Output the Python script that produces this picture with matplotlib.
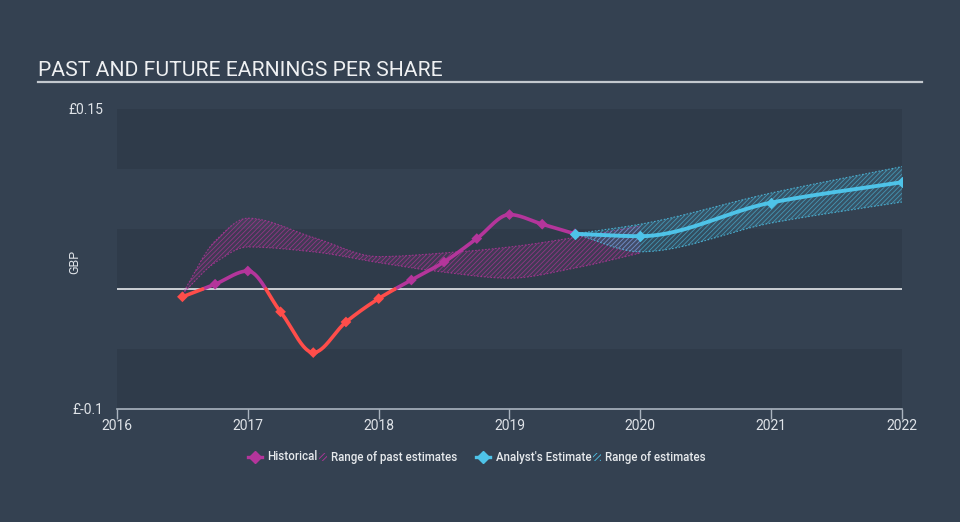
"""
Past and future EPS chart: historical EPS (coloured by sign), analyst
estimate line, and hatched ranges of past / future estimates.
Saves out.png (960x522).
"""

import numpy as np
import matplotlib
matplotlib.use("Agg")
import matplotlib.pyplot as plt
from matplotlib.lines import Line2D
from matplotlib.patches import Polygon

# ---- data ----
hist_x = [2016.5, 2016.75, 2017.0, 2017.25, 2017.5, 2017.75, 2018.0,
          2018.25, 2018.5, 2018.75, 2019.0, 2019.25, 2019.5]
hist_y = [-0.0065, 0.004, 0.015, -0.019, -0.053, -0.0275, -0.008,
          0.0075, 0.0225, 0.042, 0.062, 0.054, 0.046]

past_x = [2016.5, 2016.75, 2017.0, 2017.5, 2018.0, 2018.5, 2019.0, 2019.5, 2020.0]
past_hi = [-0.004, 0.040, 0.059, 0.043, 0.027, 0.030, 0.035, 0.043, 0.0525]
past_lo = [-0.004, 0.022, 0.035, 0.031, 0.022, 0.014, 0.009, 0.0175, 0.030]

est_x = [2019.5, 2020.0, 2021.0, 2022.0]
est_y = [0.046, 0.044, 0.072, 0.089]
est_hi = [0.046, 0.054, 0.080, 0.102]
est_lo = [0.046, 0.031, 0.055, 0.0725]

years = [2016, 2017, 2018, 2019, 2020, 2021, 2022]
ytick_vals = [-0.1, 0.15]
ytick_labels = ["£-0.1", "£0.15"]

BG = "#344151"
BAND = "#2f3b4a"
MAGENTA = "#b4359b"
RED = "#ff4d4a"
CYAN = "#4ec3e8"
TXT = "#dfe3e8"


def monotone(x, y, n=400):
    """Monotone cubic (Fritsch-Carlson) curve through the points, for drawing."""
    x = np.asarray(x, float)
    y = np.asarray(y, float)
    h = np.diff(x)
    d = np.diff(y) / h
    m = np.zeros_like(y)
    m[0], m[-1] = d[0], d[-1]
    for i in range(1, len(y) - 1):
        if d[i - 1] * d[i] <= 0:
            m[i] = 0.0
        else:
            w1 = 2 * h[i] + h[i - 1]
            w2 = h[i] + 2 * h[i - 1]
            m[i] = (w1 + w2) / (w1 / d[i - 1] + w2 / d[i])
    xs = np.linspace(x[0], x[-1], n)
    idx = np.clip(np.searchsorted(x, xs) - 1, 0, len(x) - 2)
    t = (xs - x[idx]) / h[idx]
    h00 = 2 * t**3 - 3 * t**2 + 1
    h10 = t**3 - 2 * t**2 + t
    h01 = -2 * t**3 + 3 * t**2
    h11 = t**3 - t**2
    ys = (h00 * y[idx] + h10 * h[idx] * m[idx]
          + h01 * y[idx + 1] + h11 * h[idx] * m[idx + 1])
    return xs, ys


plt.rcParams["font.family"] = ["Roboto", "DejaVu Sans"]
plt.rcParams["hatch.linewidth"] = 0.6

fig = plt.figure(figsize=(9.6, 5.22), dpi=100, facecolor=BG)
ax = fig.add_axes([117 / 960, 1 - 409 / 522, 785 / 960, 300 / 522])
ax.set_facecolor("none")
ax.set_xlim(2016, 2022)
ax.set_ylim(-0.1, 0.15)

# alternating horizontal bands
for lo in (-0.1, 0.0, 0.1):
    ax.axhspan(lo, lo + 0.05, color=BAND, lw=0, zorder=0)
ax.axhline(0, color="#e6e9ec", lw=1.2, zorder=1)

# range of past estimates
bx, bhi = monotone(past_x, past_hi)
_, blo = monotone(past_x, past_lo)
ax.fill_between(bx, blo, bhi, facecolor=MAGENTA + "22", edgecolor=MAGENTA + "b0",
                hatch="///////", lw=0, zorder=2)
for yy in (bhi, blo):
    ax.plot(bx, yy, color=MAGENTA, lw=0.8, ls=(0, (1.5, 1.5)), alpha=0.8, zorder=2)

# range of future estimates
fx, fhi = monotone(est_x, est_hi)
_, flo = monotone(est_x, est_lo)
ax.fill_between(fx, flo, fhi, facecolor=CYAN + "22", edgecolor=CYAN + "99",
                hatch="///////", lw=0, zorder=2)
for yy in (fhi, flo):
    ax.plot(fx, yy, color=CYAN, lw=0.8, ls=(0, (1.5, 1.5)), alpha=0.8, zorder=2)

# historical line, red below zero, magenta above
hx, hy = monotone(hist_x, hist_y, 1200)
ax.plot(hx, np.where(hy >= 0, hy, np.nan), color=MAGENTA, lw=2.6,
        solid_capstyle="round", zorder=3)
ax.plot(hx, np.where(hy < 0, hy, np.nan), color=RED, lw=2.6,
        solid_capstyle="round", zorder=3)
hcol = [MAGENTA if v >= 0 else RED for v in hist_y]
ax.scatter(hist_x, hist_y, marker="D", s=30, c=hcol, lw=0, zorder=4)

# analyst estimate
ex, ey = monotone(est_x, est_y)
ax.plot(ex, ey, color=CYAN, lw=2.8, solid_capstyle="round", zorder=5)
ax.scatter(est_x, est_y, marker="D", s=34, c=CYAN, lw=0, zorder=6)

# axes styling
for s in ("left", "right", "top"):
    ax.spines[s].set_visible(False)
ax.spines["bottom"].set_color("#aab4bf")
ax.spines["bottom"].set_linewidth(1.2)
ax.set_xticks(years)
ax.set_xticklabels([str(y) for y in years])
ax.tick_params(axis="x", colors="#aab4bf", length=7, width=1.0, pad=0,
               labelsize=10, labelcolor=TXT)
ax.set_yticks(ytick_vals)
ax.set_yticklabels(ytick_labels)
ax.tick_params(axis="y", length=0, pad=10, labelsize=10, labelcolor=TXT)
ax.set_ylabel("GBP", color=TXT, fontsize=9)
ax.yaxis.set_label_coords((81 - 117) / 785, (409 - 262) / 300)

# title + rule
fig.text(38 / 960, 1 - 76 / 522, "PAST AND FUTURE EARNINGS PER SHARE",
         color="#eef0f2", fontsize=15.2, va="baseline", ha="left")
fig.add_artist(Line2D([38 / 960, 922 / 960], [1 - 82 / 522] * 2,
                      color="#c3c8ce", lw=1.6, transform=fig.transFigure))

# legend (drawn by hand to match the layout)
ly = 1 - 457 / 522


def fx_(px):
    return px / 960


def legend_marker(cx, color):
    fig.add_artist(Line2D([fx_(cx - 7), fx_(cx + 7)], [ly, ly], color=color, lw=2.4,
                          transform=fig.transFigure))
    fig.add_artist(Line2D([fx_(cx)], [ly], marker="D", ms=6, color=color, mec=color,
                          lw=0, transform=fig.transFigure))


def legend_swatch(x0, color):
    h = 8 / 522
    pts = [(fx_(x0), ly - h / 2), (fx_(x0 + 8), ly - h / 2),
           (fx_(x0 + 8), ly + h / 2), (fx_(x0), ly + h / 2)]
    fig.add_artist(Polygon(pts, closed=True, facecolor="none", edgecolor=color,
                           hatch="//////", lw=0, transform=fig.transFigure))


lt = dict(color="#e6e9ec", fontsize=8.3, va="center", ha="left", fontweight="medium")
legend_marker(255, MAGENTA)
fig.text(fx_(267), ly, "Historical", **lt)
legend_swatch(319, MAGENTA)
fig.text(fx_(331), ly, "Range of past estimates", **lt)
legend_marker(483, CYAN)
fig.text(fx_(496), ly, "Analyst's Estimate", **lt)
legend_swatch(593, CYAN)
fig.text(fx_(605), ly, "Range of estimates", **lt)

fig.savefig("out.png", dpi=100, facecolor=BG)
